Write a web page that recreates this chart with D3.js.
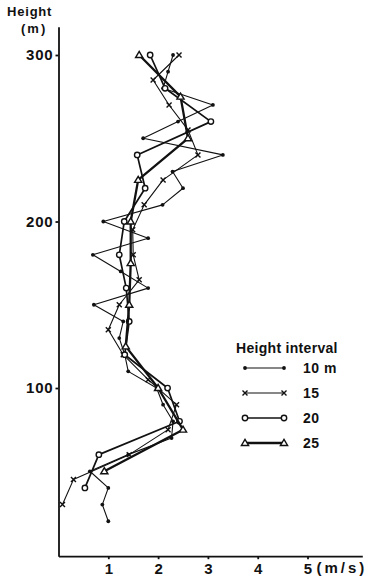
<!DOCTYPE html>
<html>
<head>
<meta charset="utf-8">
<script src="https://cdn.jsdelivr.net/npm/d3@7"></script>
<style>
  body { margin: 0; background: #fff; }
  text { font-family: "Liberation Sans", Arial, sans-serif; fill: #111; }
  .axis path, .axis line { stroke: #111; stroke-width: 1.8; }
  .axis text { font-size: 15px; font-weight: bold; }
</style>
</head>
<body>
<div id="chart"></div>
<script>
// heights (m) and wind speed (m/s) for each height interval
var h10 = [20, 30, 40, 50, 60, 70, 80, 90, 100, 110, 120, 130, 140, 150, 160, 170, 180, 190, 200, 210, 220, 230, 240, 250, 260, 270, 280, 290, 300];
var v10 = [1.0, 0.88, 1.0, 0.63, 1.4, 2.27, 2.3, 2.1, 1.97, 1.4, 1.33, 1.22, 1.3, 0.71, 1.8, 1.25, 0.69, 1.8, 0.9, 2.09, 2.5, 2.29, 3.3, 1.7, 2.4, 3.1, 2.1, 2.2, 2.3];

var h15 = [30, 45, 60, 75, 90, 105, 120, 135, 150, 165, 180, 195, 210, 225, 240, 255, 270, 285, 300];
var v15 = [0.08, 0.3, 1.42, 2.2, 2.37, 1.8, 1.3, 1.0, 1.22, 1.62, 1.5, 1.49, 1.72, 2.1, 2.8, 2.6, 2.22, 1.9, 2.42];

var h20 = [40, 60, 80, 100, 120, 140, 160, 180, 200, 220, 240, 260, 280, 300];
var v20 = [0.53, 0.81, 2.43, 2.19, 1.33, 1.42, 1.36, 1.22, 1.32, 1.74, 1.58, 3.06, 2.14, 1.84];

var h25 = [50, 75, 100, 125, 150, 175, 200, 225, 250, 275, 300];
var v25 = [0.92, 2.5, 2.0, 1.35, 1.42, 1.45, 1.45, 1.6, 2.6, 2.45, 1.62];

var legendLabels = ["10 m", "15", "20", "25"];
var xTicks = [1, 2, 3, 4, 5];
var yTicks = [100, 200, 300];

var svgWidth = 374;
var svgHeight = 580;

var svg = d3.select("#chart")
  .append("svg")
  .attr("width", svgWidth)
  .attr("height", svgHeight);

var x = d3.scaleLinear()
  .domain([0, 6.1])
  .range([58.5, 362.3]);

var y = d3.scaleLinear()
  .domain([-1, 317])
  .range([556.2, 26.7]);

// axes
svg.append("g")
  .attr("class", "axis")
  .attr("transform", `translate(0, ${y(-1)})`)
  .call(d3.axisBottom(x).tickValues(xTicks).tickFormat(d3.format("d"))
    .tickSize(3).tickSizeOuter(0).tickPadding(4));

svg.append("g")
  .attr("class", "axis")
  .attr("transform", `translate(${x(0)}, 0)`)
  .call(d3.axisLeft(y).tickValues(yTicks).tickFormat(d3.format("d"))
    .tickSize(3).tickSizeOuter(0).tickPadding(2))
  .selectAll("text")
  .attr("font-size", "16px")
  .attr("letter-spacing", "0.8px");

svg.append("text")
  .attr("x", x(5) + 9)
  .attr("y", y(-1) + 17)
  .attr("font-size", "15px")
  .attr("font-weight", "bold")
  .attr("letter-spacing", "3px")
  .text("(m/s)");

svg.append("text")
  .attr("x", 7)
  .attr("y", 16)
  .attr("font-size", "13px")
  .attr("font-weight", "bold")
  .attr("letter-spacing", "0.8px")
  .text("Height");

svg.append("text")
  .attr("x", 21)
  .attr("y", 33)
  .attr("font-size", "13px")
  .attr("font-weight", "bold")
  .attr("letter-spacing", "2px")
  .text("(m)");

// series
var series = [
  { h: h10, v: v10, width: 1.1, marker: "dot" },
  { h: h15, v: v15, width: 1.1, marker: "cross" },
  { h: h20, v: v20, width: 1.7, marker: "circle" },
  { h: h25, v: v25, width: 2.3, marker: "triangle" }
];

function drawMarker(g, type, cx, cy) {
  if (type === "dot") {
    g.append("circle").attr("cx", cx).attr("cy", cy).attr("r", 1.9).attr("fill", "#111");
  } else if (type === "cross") {
    var s = 2.5;
    g.append("path")
      .attr("d", `M${cx - s},${cy - s}L${cx + s},${cy + s}M${cx - s},${cy + s}L${cx + s},${cy - s}`)
      .attr("stroke", "#111").attr("stroke-width", 1.4);
  } else if (type === "circle") {
    g.append("circle").attr("cx", cx).attr("cy", cy).attr("r", 2.7)
      .attr("fill", "#fff").attr("stroke", "#111").attr("stroke-width", 1.4);
  } else {
    var t = 3.6;
    g.append("path")
      .attr("d", `M${cx},${cy - t}L${cx + t},${cy + t * 0.7}L${cx - t},${cy + t * 0.7}Z`)
      .attr("fill", "#fff").attr("stroke", "#111").attr("stroke-width", 1.4);
  }
}

var line = d3.line()
  .x(d => x(d[1]))
  .y(d => y(d[0]));

series.forEach(function(s) {
  var pts = s.h.map((h, i) => [h, s.v[i]]);
  var g = svg.append("g");
  g.append("path")
    .datum(pts)
    .attr("d", line)
    .attr("fill", "none")
    .attr("stroke", "#111")
    .attr("stroke-width", s.width)
    .attr("stroke-linejoin", "round");
  pts.forEach(function(p) {
    drawMarker(g, s.marker, x(p[1]), y(p[0]));
  });
});

// legend
var legend = svg.append("g").attr("transform", "translate(236, 0)");

legend.append("text")
  .attr("x", 0)
  .attr("y", 353)
  .attr("font-size", "14px")
  .attr("font-weight", "bold")
  .attr("letter-spacing", "0.3px")
  .text("Height interval");

series.forEach(function(s, i) {
  var ly = 368 + i * 25;
  var g = legend.append("g");
  g.append("line")
    .attr("x1", 9).attr("x2", 48)
    .attr("y1", ly).attr("y2", ly)
    .attr("stroke", "#111")
    .attr("stroke-width", s.width);
  drawMarker(g, s.marker, 9, ly);
  drawMarker(g, s.marker, 48, ly);
  g.append("text")
    .attr("x", 67)
    .attr("y", ly + 5)
    .attr("font-size", "14px")
    .attr("font-weight", "bold")
    .attr("letter-spacing", "0.5px")
    .text(legendLabels[i]);
});
</script>
</body>
</html>
